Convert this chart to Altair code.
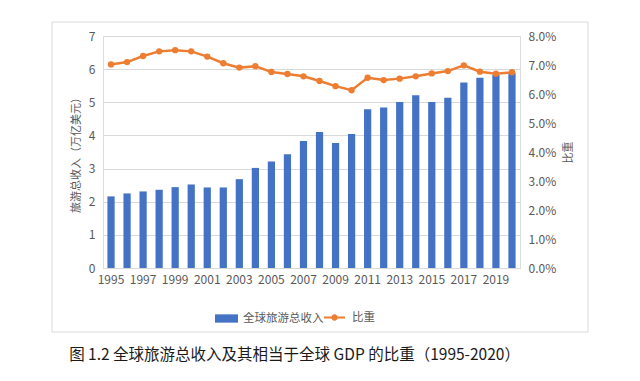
import altair as alt
import pandas as pd

years = [str(y) for y in range(1995, 2021)]
revenue = [2.16, 2.25, 2.31, 2.36, 2.44, 2.52, 2.43, 2.43, 2.68, 3.02, 3.21, 3.43, 3.83, 4.10,
           3.77, 4.04, 4.79, 4.84, 5.01, 5.21, 5.01, 5.14, 5.60, 5.74, 5.82, 5.88]
share = [7.02, 7.10, 7.31, 7.47, 7.51, 7.47, 7.29, 7.06, 6.91, 6.96, 6.76, 6.69, 6.61, 6.45,
         6.27, 6.13, 6.56, 6.48, 6.53, 6.61, 6.71, 6.79, 6.99, 6.77, 6.70, 6.75]
year_labels = [str(y) for y in range(1995, 2021, 2)]
left_ticks = [0, 1, 2, 3, 4, 5, 6, 7]
right_ticks = [0, 0.01, 0.02, 0.03, 0.04, 0.05, 0.06, 0.07, 0.08]

bar_name = "全球旅游总收入"
line_name = "比重"

df = pd.DataFrame({
    "year": years,
    "revenue": revenue,
    "share": [s / 100 for s in share],
    "s1": bar_name,
    "s2": line_name,
})

FONT = "Noto Sans CJK SC"
BLUE = "#4472C4"
ORANGE = "#ED7D31"
GREY = "#595959"

x_enc = alt.X(
    "year:O",
    scale=alt.Scale(paddingInner=0.55, paddingOuter=0.275),
    axis=alt.Axis(title=None, values=year_labels, labelAngle=0, labelFont=FONT,
                  labelFontSize=12, labelColor=GREY, ticks=False, domainColor="#d9d9d9",
                  labelPadding=6),
)

frame = alt.Chart(pd.DataFrame({"a": [0]})).mark_rect(
    filled=False, stroke="#d9d9d9", strokeWidth=1
).encode(
    x=alt.value(-51), x2=alt.value(485), y=alt.value(-14), y2=alt.value(296)
)

bars = alt.Chart(df).mark_bar().encode(
    x=x_enc,
    y=alt.Y("revenue:Q", scale=alt.Scale(domain=[0, 7]),
            axis=alt.Axis(title="旅游总收入（万亿美元）", orient="left", values=left_ticks,
                          grid=True, gridColor="#d9d9d9", domain=False, ticks=False,
                          labelFont=FONT, labelFontSize=12, labelColor=GREY, labelPadding=8,
                          titleFont=FONT, titleFontSize=11, titleColor=GREY,
                          titleFontWeight="normal", titlePadding=7)),
    color=alt.Color("s1:N", scale=alt.Scale(domain=[bar_name], range=[BLUE]),
                    legend=alt.Legend(title=None, orient="none", legendX=112, legendY=271,
                                      symbolType="M-1,-0.36L1,-0.36L1,0.36L-1,0.36Z",
                                      symbolSize=529, symbolStrokeWidth=0, padding=0,
                                      labelFont=FONT, labelFontSize=11.5, labelColor=GREY,
                                      labelOffset=5)),
)

line = alt.Chart(df).mark_line(
    strokeWidth=2.5,
    point=alt.OverlayMarkDef(filled=True, size=40, color=ORANGE),
).encode(
    x=x_enc,
    y=alt.Y("share:Q", scale=alt.Scale(domain=[0, 0.08]),
            axis=alt.Axis(title="比重", orient="right", values=right_ticks, format=".1%",
                          grid=False, domain=False, ticks=False,
                          labelFont=FONT, labelFontSize=12, labelColor=GREY, labelPadding=8,
                          titleFont=FONT, titleFontSize=11, titleColor=GREY,
                          titleFontWeight="normal", titleAngle=270,
                          titleX=53, titleY=116)),
    color=alt.Color("s2:N", scale=alt.Scale(domain=[line_name], range=[ORANGE]),
                    legend=alt.Legend(title=None, orient="none", legendX=221, legendY=271,
                                      symbolType="M-1,-0.09L1,-0.09L1,0.09L-1,0.09Z M0.3,0A0.3,0.3 0 1,1 -0.3,0A0.3,0.3 0 1,1 0.3,0Z",
                                      symbolSize=441, symbolStrokeWidth=0,
                                      symbolFillColor=ORANGE, padding=0,
                                      labelFont=FONT, labelFontSize=11.5, labelColor=GREY,
                                      labelOffset=7)),
)

chart = alt.layer(frame, bars, line).resolve_scale(
    y="independent", color="independent"
).properties(
    width=417,
    height=232,
    padding={"left": 95, "top": 28, "right": 105, "bottom": 112},
    autosize=alt.AutoSizeParams(type="none"),
    title=alt.TitleParams(
        "图 1.2 全球旅游总收入及其相当于全球 GDP 的比重（1995-2020）",
        orient="bottom", anchor="middle", dx=-17, offset=15,
        font=FONT, fontSize=15.5, fontWeight="normal", color="#1a1a1a",
    ),
).configure_view(stroke=None).configure(background="white")

chart.save("out.html", embed_options={"renderer": "svg", "actions": False})
